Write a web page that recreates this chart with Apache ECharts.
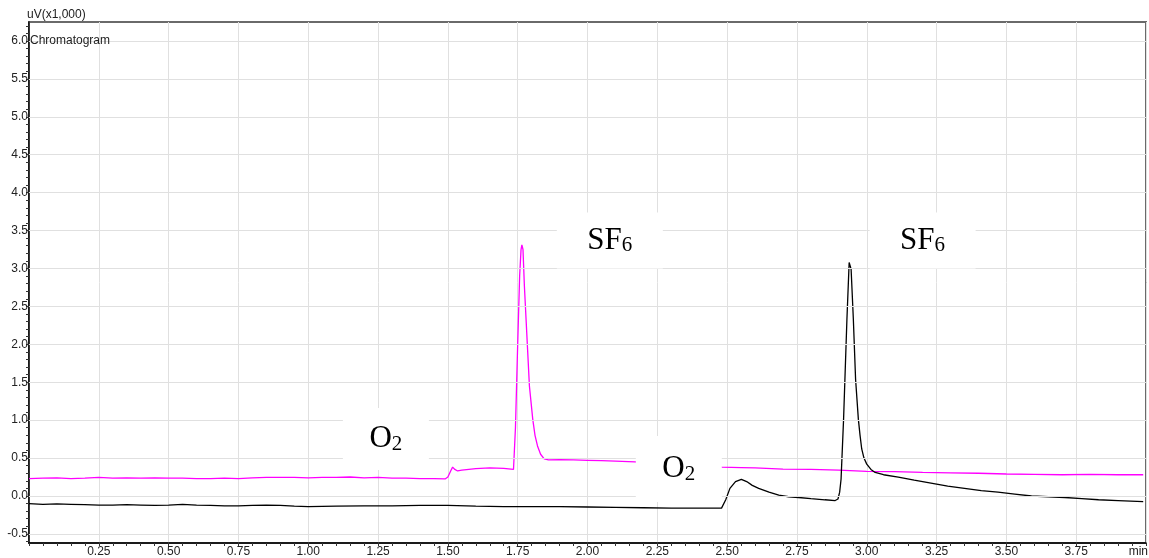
<!DOCTYPE html>
<html><head><meta charset="utf-8">
<script src="https://cdn.jsdelivr.net/npm/echarts@6/dist/echarts.min.js"></script>
<style>html,body{margin:0;padding:0;background:#fff}#c{width:1149px;height:558px}</style>
</head><body><div id="c"></div>
<script>
// Retention time (min) and signal (uV x1,000) for the magenta trace
const pinkT = [0.00,0.05,0.10,0.15,0.20,0.25,0.30,0.35,0.40,0.45,0.50,0.55,0.60,0.65,0.70,0.75,0.80,0.85,0.90,0.95,
  1.00,1.05,1.10,1.15,1.20,1.25,1.30,1.35,1.40,1.45,1.49,1.50,1.51,1.517,1.525,1.535,1.55,1.60,1.65,1.70,1.735,
  1.742,1.750,1.757,1.762,1.765,1.769,1.774,1.780,1.786,1.792,1.804,1.812,1.821,1.832,1.845,1.86,1.90,1.95,2.00,2.05,2.10,2.17,
  2.48,2.55,2.60,2.70,2.80,2.90,3.00,3.10,3.20,3.30,3.40,3.50,3.60,3.70,3.80,3.90,3.99];
const pinkV = [0.23,0.235,0.24,0.23,0.235,0.245,0.235,0.24,0.235,0.24,0.235,0.235,0.23,0.23,0.235,0.23,0.24,0.245,0.245,0.245,
  0.24,0.245,0.245,0.25,0.24,0.245,0.235,0.235,0.23,0.23,0.225,0.25,0.33,0.38,0.35,0.33,0.34,0.36,0.37,0.365,0.35,
  0.9,2.0,2.9,3.25,3.31,3.25,2.77,2.33,1.89,1.45,1.01,0.80,0.66,0.55,0.49,0.475,0.48,0.475,0.47,0.465,0.46,0.45,
  0.38,0.375,0.37,0.355,0.35,0.34,0.325,0.32,0.31,0.305,0.30,0.29,0.285,0.28,0.285,0.28,0.28];
// Black trace
const blackT = [0.00,0.05,0.10,0.15,0.20,0.25,0.30,0.35,0.40,0.45,0.50,0.55,0.60,0.65,0.70,0.75,0.80,0.85,0.90,0.95,
  1.00,1.10,1.20,1.30,1.40,1.50,1.60,1.70,1.80,1.90,2.00,2.10,2.20,2.30,2.40,2.48,2.495,2.51,2.53,2.551,2.57,2.59,
  2.613,2.65,2.685,2.72,2.756,2.80,2.85,2.887,2.897,2.903,2.908,2.917,2.929,2.937,2.944,2.952,2.960,2.970,2.976,2.982,
  2.99,3.00,3.015,3.03,3.06,3.113,3.17,3.23,3.29,3.35,3.41,3.47,3.53,3.59,3.65,3.71,3.77,3.83,3.90,3.99];
const blackV = [-0.10,-0.11,-0.105,-0.11,-0.115,-0.12,-0.12,-0.115,-0.12,-0.125,-0.12,-0.11,-0.12,-0.125,-0.13,-0.13,-0.125,-0.12,-0.125,-0.135,
  -0.14,-0.135,-0.13,-0.13,-0.125,-0.125,-0.135,-0.14,-0.14,-0.14,-0.145,-0.15,-0.155,-0.16,-0.16,-0.16,-0.05,0.10,0.19,0.22,0.19,0.14,
  0.10,0.05,0.01,-0.01,-0.02,-0.035,-0.05,-0.06,-0.04,0.05,0.22,1.01,2.33,3.08,2.99,2.33,1.54,1.01,0.80,0.62,
  0.50,0.42,0.35,0.31,0.28,0.25,0.21,0.17,0.13,0.10,0.07,0.05,0.025,0.00,-0.01,-0.02,-0.035,-0.05,-0.06,-0.075];
// Tick values
const yLabelValues = [-0.5,0.0,0.5,1.0,1.5,2.0,2.5,3.0,3.5,4.0,4.5,5.0,5.5,6.0];
const yTickValues = [-0.6,-0.5,-0.4,-0.3,-0.2,-0.1,0.0,0.1,0.2,0.3,0.4,0.5,0.6,0.7,0.8,0.9,1.0,1.1,1.2,1.3,1.4,1.5,1.6,1.7,1.8,1.9,
  2.0,2.1,2.2,2.3,2.4,2.5,2.6,2.7,2.8,2.9,3.0,3.1,3.2,3.3,3.4,3.5,3.6,3.7,3.8,3.9,4.0,4.1,4.2,4.3,4.4,4.5,4.6,4.7,4.8,4.9,
  5.0,5.1,5.2,5.3,5.4,5.5,5.6,5.7,5.8,5.9,6.0,6.1,6.2];
// Peak annotations (label, subscript, anchor in data coords)
const annotations = [
  {main:'O', sub:'2', t:1.278, v:0.75, w:86, h:62},
  {main:'SF', sub:'6', t:2.08, v:3.37, w:106, h:56},
  {main:'SF', sub:'6', t:3.20, v:3.37, w:106, h:56},
  {main:'O', sub:'2', t:2.327, v:0.355, w:86, h:66}
];

const txt = '#222';
const chart = echarts.init(document.getElementById('c'));
const option = {
  animation:false,
  backgroundColor:'#fff',
  title:{text:'Chromatogram', left:30, top:35, padding:0,
    textStyle:{fontSize:12, fontWeight:'normal', color:txt, fontFamily:'Liberation Sans'}},
  grid:{left:29, right:3, top:22, bottom:14, show:true, borderColor:'#6a6a6a', borderWidth:2, backgroundColor:'#fff'},
  xAxis:{type:'value', min:0, max:4, interval:0.25,
    axisLine:{onZero:false, lineStyle:{color:'#000', width:1.5}},
    axisTick:{show:true, length:3, lineStyle:{color:'#333'}},
    minorTick:{show:true, splitNumber:5, length:3, lineStyle:{color:'#333'}},
    splitLine:{show:true, lineStyle:{color:'#e0e0e0', width:1}},
    axisLabel:{showMinLabel:false, showMaxLabel:false, margin:3, color:txt, fontSize:12, fontFamily:'Liberation Sans',
      formatter:v=>v.toFixed(2)}},
  yAxis:{type:'value', min:-0.62, max:6.25,
    name:'uV(x1,000)', nameLocation:'end', nameGap:7,
    nameTextStyle:{align:'left', verticalAlign:'middle', padding:[0,0,0,-2], color:txt, fontSize:12, fontFamily:'Liberation Sans'},
    axisLine:{show:true, onZero:false, lineStyle:{color:'#000', width:1.5}},
    axisTick:{show:true, length:3, customValues:yTickValues, lineStyle:{color:'#333'}},
    splitLine:{show:false},
    axisLabel:{customValues:yLabelValues, margin:1, color:txt, fontSize:12, fontFamily:'Liberation Sans',
      formatter:v=>v.toFixed(1)}},
  series:[
    {type:'line', data:[], z:1, silent:true,
      markLine:{silent:true, symbol:'none', animation:false, label:{show:false},
        lineStyle:{color:'#e0e0e0', type:'solid', width:1},
        emphasis:{disabled:true},
        data:yLabelValues.map(v=>({yAxis:v}))}},
    {type:'line', name:'pink', data:pinkT.map((t,i)=>[t,pinkV[i]]), showSymbol:false, symbol:'none', z:3,
      lineStyle:{color:'#ff00ff', width:1.3}},
    {type:'line', name:'black', data:blackT.map((t,i)=>[t,blackV[i]]), showSymbol:false, symbol:'none', z:4,
      lineStyle:{color:'#000', width:1.3}}
  ]
};
chart.setOption(option);

const gfx = [];
annotations.forEach(a=>{
  const p = chart.convertToPixel({gridIndex:0},[a.t,a.v]);
  gfx.push({type:'rect', z:100, shape:{x:p[0]-a.w/2, y:p[1]-a.h/2, width:a.w, height:a.h}, style:{fill:'#fff'}, silent:true});
  gfx.push({type:'text', z:101, x:p[0], y:p[1], silent:true,
    style:{text:'{m|'+a.main+'}{s|'+a.sub+'}', align:'center', verticalAlign:'middle',
      rich:{m:{fontSize:31, fontFamily:'Liberation Serif', fill:'#000', color:'#000', verticalAlign:'bottom'},
            s:{fontSize:21, fontFamily:'Liberation Serif', fill:'#000', color:'#000', verticalAlign:'bottom', padding:[4,0,0,0]}}}});
});
gfx.push({type:'text', right:1, top:546, style:{text:'min', fill:txt, font:'12px "Liberation Sans"'}});
chart.setOption({graphic:gfx});
</script>
</body></html>
